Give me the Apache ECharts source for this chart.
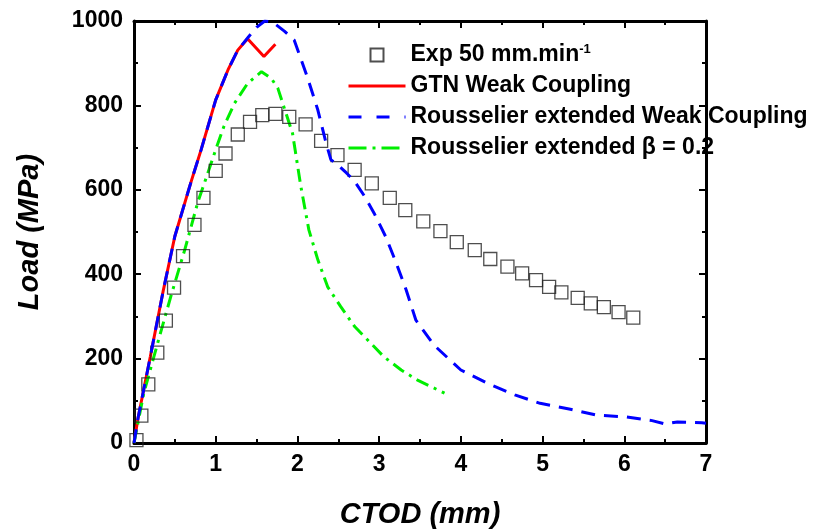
<!DOCTYPE html>
<html>
<head>
<meta charset="utf-8">
<script src="https://cdn.jsdelivr.net/npm/echarts@6/dist/echarts.min.js"></script>
<style>
html,body{margin:0;padding:0;background:#fff;}
#chart{width:816px;height:530px;}
</style>
</head>
<body>
<div id="chart"></div>
<script>
// ---- Data ----
const seriesNames = ['Exp 50 mm.min-1', 'GTN Weak Coupling', 'Rousselier extended Weak Coupling', 'Rousselier extended \u03B2 = 0.2'];

const expX = [0.03,0.09,0.175,0.285,0.39,0.49,0.60,0.74,0.85,1.00,1.12,1.27,1.42,1.57,1.73,1.90,2.10,2.29,2.49,2.70,2.91,3.13,3.32,3.54,3.75,3.95,4.17,4.36,4.57,4.75,4.92,5.08,5.23,5.43,5.59,5.75,5.93,6.11];
const expY = [7,65,139,214,290,368,443,517,581,645,686,731,761,777,780,773,755,716,682,647,615,581,552,525,502,476,457,436,418,402,386,370,357,344,331,322,310,297];

const gtnX = [0,0.05,0.2,0.36,0.5,0.7,0.82,1.0,1.15,1.27,1.39,1.59,1.73];
const gtnY = [0,60,205,363,490,620,694,813,884,931,958,916,945];

const rwcX = [0,0.05,0.2,0.36,0.5,0.7,0.82,1.0,1.15,1.27,1.4,1.5,1.6,1.7,1.84,1.96,2.12,2.25,2.35,2.41,2.49,2.60,2.70,2.82,2.94,3.08,3.21,3.33,3.45,3.67,4.0,4.33,4.66,4.97,5.34,5.66,6.01,6.34,6.5,6.65,6.95,7.0];
const rwcY = [0,60,205,363,490,620,694,813,884,931,962,985,1000,997,976,955,868,789,711,671,660,640,620,585,544,489,426,363,291,232,173,141,114,94,80,66,62,53,45,50,48,47];

const rbX = [0,0.12,0.30,0.45,0.62,0.78,0.86,1.0,1.1,1.23,1.39,1.56,1.68,1.76,1.82,1.94,2.04,2.14,2.25,2.37,2.53,2.70,2.94,3.06,3.27,3.47,3.80];
const rbY = [0,118,244,347,457,570,615,695,750,805,852,880,864,841,805,734,610,505,434,370,323,276,228,204,173,149,118];

const xTicks = [0,1,2,3,4,5,6,7];
const yTicks = [0,200,400,600,800,1000];

function pairs(xs, ys){ return xs.map((x,i)=>[x, ys[i]]); }

const FONT = '"Liberation Sans", Arial, sans-serif';

const chart = echarts.init(document.getElementById('chart'), null, {renderer:'canvas'});

const baseAxisLine = {show:true, onZero:false, lineStyle:{color:'#000', width:3}};
const tickStyle = {show:true, inside:true, length:7, lineStyle:{color:'#000', width:2}};
const minorStyle = {show:true, splitNumber:2, length:4, lineStyle:{color:'#000', width:2}};
const plainNum = function(v){ return String(v); };
const hiddenSymbol = {color:'rgba(0,0,0,0)', borderWidth:0, opacity:0};

chart.setOption({
  animation:false,
  backgroundColor:'#fff',
  grid:{left:134, right:110, top:21, bottom:87, containLabel:false, outerBoundsMode:'none'},
  xAxis:[{
    type:'value', min:xTicks[0], max:xTicks[xTicks.length-1], interval:1,
    name:'CTOD (mm)', nameLocation:'middle', nameGap:57,
    nameTextStyle:{fontFamily:FONT, fontSize:29, fontWeight:'bold', fontStyle:'italic', color:'#000'},
    axisLine:baseAxisLine, axisTick:tickStyle, minorTick:minorStyle,
    axisLabel:{fontFamily:FONT, fontSize:23, fontWeight:'bold', color:'#000', margin:10, formatter:plainNum},
    splitLine:{show:false}
  },{
    type:'value', position:'top', min:xTicks[0], max:xTicks[xTicks.length-1], interval:1,
    axisLine:baseAxisLine, axisTick:tickStyle, minorTick:minorStyle,
    axisLabel:{show:false}, splitLine:{show:false}
  }],
  yAxis:[{
    type:'value', min:yTicks[0], max:yTicks[yTicks.length-1], interval:200,
    name:'Load (MPa)', nameLocation:'middle', nameGap:90,
    nameTextStyle:{fontFamily:FONT, fontSize:29, fontWeight:'bold', fontStyle:'italic', color:'#000'},
    axisLine:baseAxisLine, axisTick:tickStyle, minorTick:minorStyle,
    axisLabel:{fontFamily:FONT, fontSize:23, fontWeight:'bold', color:'#000', margin:11, formatter:plainNum},
    splitLine:{show:false}
  },{
    type:'value', position:'right', min:yTicks[0], max:yTicks[yTicks.length-1], interval:200,
    axisLine:baseAxisLine, axisTick:tickStyle, minorTick:minorStyle,
    axisLabel:{show:false}, splitLine:{show:false}
  }],
  legend:{
    orient:'vertical', left:347, top:43, padding:0, itemWidth:57, itemHeight:13, itemGap:8,
    symbolKeepAspect:true,
    data:[
      {name:seriesNames[0], icon:'path://M0,0H12V12H0Z'},
      {name:seriesNames[1], itemStyle:hiddenSymbol, lineStyle:{width:3}},
      {name:seriesNames[2], itemStyle:hiddenSymbol, lineStyle:{width:3, type:[13,15]}},
      {name:seriesNames[3], itemStyle:hiddenSymbol, lineStyle:{width:3, type:[18,6,3,6]}}
    ],
    formatter:function(name){
      if(name.indexOf('Exp')===0) return '{n|Exp 50 mm.min}{s|-1}';
      return '{n|'+name+'}';
    },
    textStyle:{
      fontFamily:FONT, fontSize:23, fontWeight:'bold', color:'#000',
      rich:{
        n:{fontFamily:FONT, fontSize:23, fontWeight:'bold', color:'#000', lineHeight:24},
        s:{fontFamily:FONT, fontSize:13, fontWeight:'bold', color:'#000', verticalAlign:'top', lineHeight:14}
      }
    }
  },
  series:[
    {
      name:seriesNames[0], type:'scatter', data:pairs(expX, expY),
      symbol:'rect', symbolSize:13,
      itemStyle:{color:'rgba(255,255,255,0)', borderColor:'#222', borderWidth:1.3},
      z:3
    },
    {
      name:seriesNames[1], type:'line', data:pairs(gtnX, gtnY),
      showSymbol:false, symbol:'none', smooth:false,
      lineStyle:{color:'#ff0000', width:3}, itemStyle:{color:'#ff0000'}, z:2
    },
    {
      name:seriesNames[2], type:'line', data:pairs(rwcX, rwcY),
      showSymbol:false, symbol:'none', smooth:false,
      lineStyle:{color:'#0000ff', width:3, type:[14,9]}, itemStyle:{color:'#0000ff'}, z:4
    },
    {
      name:seriesNames[3], type:'line', data:pairs(rbX, rbY),
      showSymbol:false, symbol:'none', smooth:false,
      lineStyle:{color:'#00ee00', width:3, type:[13,6,3,6]}, itemStyle:{color:'#00ee00'}, z:2
    }
  ]
});
</script>
</body>
</html>
